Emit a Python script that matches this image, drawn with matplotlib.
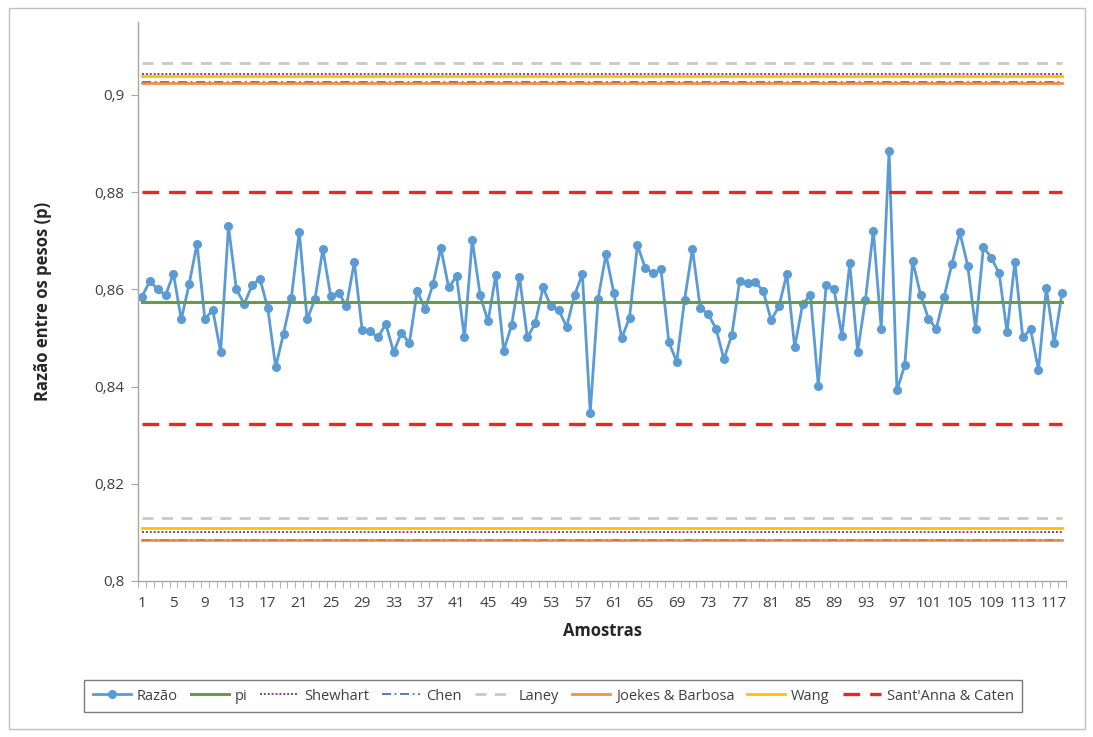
import numpy as np
import matplotlib
matplotlib.use("Agg")
import matplotlib.pyplot as plt
from matplotlib.patches import Rectangle

plt.rcParams['font.family'] = ['Open Sans', 'DejaVu Sans']

# razao entre os pesos, amostras 1..118
razao = [
    0.8585, 0.8617, 0.8600, 0.8588, 0.8632, 0.8538, 0.8611, 0.8694, 0.8538, 0.8558,
    0.8471, 0.8730, 0.8600, 0.8570, 0.8608, 0.8622, 0.8561, 0.8440, 0.8509, 0.8583,
    0.8719, 0.8538, 0.8580, 0.8683, 0.8586, 0.8593, 0.8566, 0.8656, 0.8516, 0.8514,
    0.8501, 0.8529, 0.8471, 0.8511, 0.8489, 0.8597, 0.8559, 0.8610, 0.8685, 0.8604,
    0.8627, 0.8501, 0.8702, 0.8588, 0.8534, 0.8630, 0.8474, 0.8526, 0.8626, 0.8501,
    0.8530, 0.8604, 0.8565, 0.8557, 0.8523, 0.8588, 0.8631, 0.8346, 0.8581, 0.8672,
    0.8593, 0.8499, 0.8542, 0.8691, 0.8644, 0.8633, 0.8641, 0.8491, 0.8451, 0.8579,
    0.8683, 0.8561, 0.8549, 0.8519, 0.8456, 0.8506, 0.8617, 0.8613, 0.8615, 0.8596,
    0.8537, 0.8565, 0.8632, 0.8481, 0.8569, 0.8589, 0.8402, 0.8609, 0.8601, 0.8504,
    0.8654, 0.8472, 0.8579, 0.8721, 0.8519, 0.8885, 0.8392, 0.8444, 0.8659, 0.8589,
    0.8540, 0.8519, 0.8585, 0.8653, 0.8717, 0.8649, 0.8519, 0.8687, 0.8665, 0.8633,
    0.8512, 0.8657, 0.8501, 0.8518, 0.8434, 0.8603, 0.8489, 0.8593,
]
pi = 0.8573

# limites (superior, inferior)
shewhart = (0.9043, 0.8101)
chen = (0.9026, 0.8085)
laney = (0.9066, 0.8129)
joekes = (0.9025, 0.8084)
wang = (0.9038, 0.8108)
santanna = (0.8801, 0.8324)

yticks = [0.80, 0.82, 0.84, 0.86, 0.88, 0.90]
ytick_labels = ['0,8', '0,82', '0,84', '0,86', '0,88', '0,9']

n = len(razao)
x = np.arange(1, n + 1)

fig = plt.figure(figsize=(10.93, 7.37), dpi=100)
ax = fig.add_axes([0.1263, 0.2117, 0.849, 0.7584])

ax.plot(x, razao, color='#5B9BD5', lw=2, marker='o', ms=5.5, zorder=2, label='Razão')
ax.plot(x, np.full(n, pi), color='#6A9A45', lw=2.2, zorder=3, label='pi')


def limite(vals, **kw):
    lab = kw.pop('label')
    ax.plot(x, np.full(n, vals[0]), label=lab, **kw)
    ax.plot(x, np.full(n, vals[1]), **kw)


limite(shewhart, color='#8E3B8E', lw=1.4, ls=(0, (1, 1)), zorder=4, label='Shewhart')
limite(chen, color='#4472C4', lw=1.3, ls=(0, (5, 2, 1, 2)), zorder=4, label='Chen')
limite(laney, color='#C9C9C9', lw=2, ls=(0, (4, 3)), zorder=4, label='Laney')
limite(joekes, color='#ED7D31', lw=2, zorder=5, alpha=0.85, label='Joekes & Barbosa')
limite(wang, color='#FFC000', lw=2, zorder=4, label='Wang')
limite(santanna, color='#E8262A', lw=2.4, ls=(0, (5, 3)), zorder=5, label="Sant'Anna & Caten")

ax.set_xlim(0.5, n + 0.5)
ax.set_ylim(0.8, 0.915)
ax.set_yticks(yticks)
ax.set_yticklabels(ytick_labels)
ax.set_xticks(x[::4])
ax.set_xticklabels([str(v) for v in x[::4]])
ax.set_xticks(np.arange(0.5, n + 1), minor=True)

for s in ['top', 'right']:
    ax.spines[s].set_visible(False)
for s in ['left', 'bottom']:
    ax.spines[s].set_color('#A6A6A6')
    ax.spines[s].set_linewidth(1)
ax.tick_params(axis='y', direction='out', length=5, color='#A6A6A6', labelsize=11, labelcolor='#404040', pad=5)
ax.tick_params(axis='x', which='major', length=0, labelsize=11, labelcolor='#404040', pad=11)
ax.tick_params(axis='x', which='minor', direction='out', length=5, color='#A6A6A6')

ax.set_xlabel('Amostras', fontsize=12, fontweight='bold', color='#262626', labelpad=8)
ax.set_ylabel('Razão entre os pesos (p)', fontsize=12, fontweight='bold', color='#262626', labelpad=30)

leg = fig.legend(loc='center', bbox_to_anchor=(0.5063, 0.0556), ncol=8, fontsize=10.5,
                 frameon=True, fancybox=False, edgecolor='#595959', handlelength=2.6,
                 columnspacing=0.9, handletextpad=0.4, borderpad=0.6)
leg.get_frame().set_linewidth(1)
for t in leg.get_texts():
    t.set_color('#404040')

fig.patches.append(Rectangle((9 / 1093, 8 / 737), 1076 / 1093, 721 / 737, transform=fig.transFigure,
                             fill=False, edgecolor='#BFBFBF', lw=1))

fig.savefig('out.png', dpi=100)
